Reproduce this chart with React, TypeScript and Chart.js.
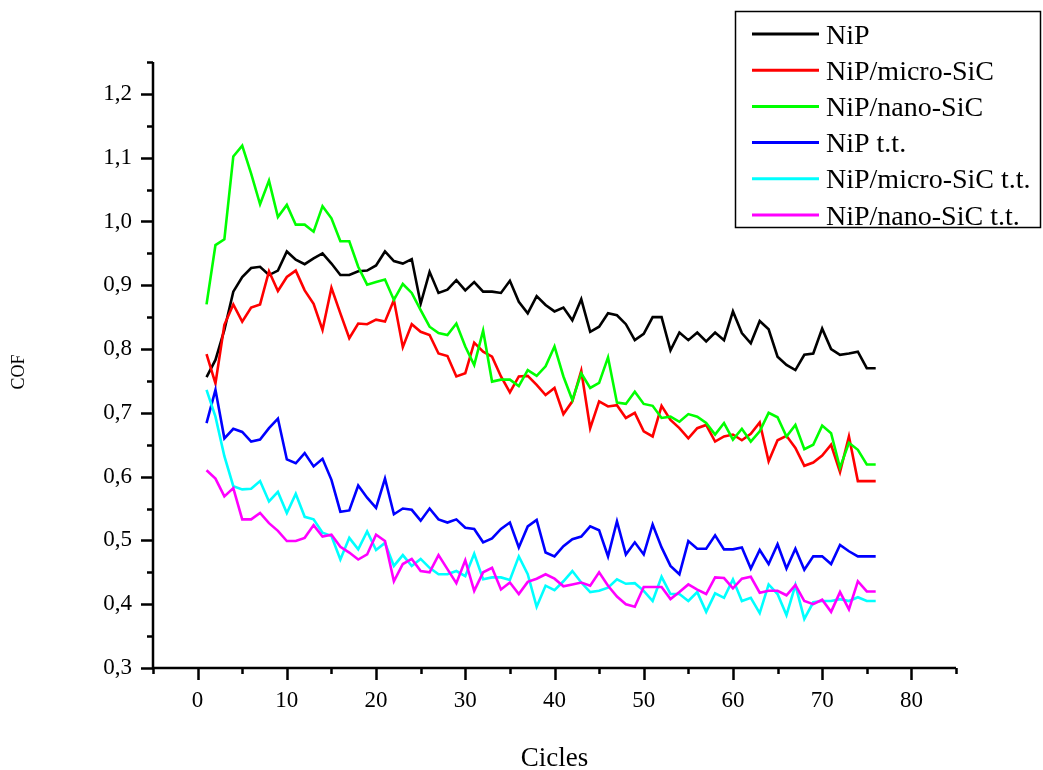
import React, { useEffect, useRef } from "react";
import { Chart, registerables } from "chart.js";

Chart.register(...registerables);

// Cycle numbers (x values)
const cycles = [
  1, 2, 3, 4, 5, 6, 7, 8, 9, 10, 11, 12, 13, 14, 15, 16, 17, 18, 19, 20,
  21, 22, 23, 24, 25, 26, 27, 28, 29, 30, 31, 32, 33, 34, 35, 36, 37, 38, 39, 40,
  41, 42, 43, 44, 45, 46, 47, 48, 49, 50, 51, 52, 53, 54, 55, 56, 57, 58, 59, 60,
  61, 62, 63, 64, 65, 66, 67, 68, 69, 70, 71, 72, 73, 74, 75, 76,
];

// Coefficient of friction per coating
const cofNiP = [
  0.756, 0.783, 0.83, 0.89, 0.913, 0.927, 0.929, 0.916, 0.923, 0.953,
  0.94, 0.933, 0.942, 0.95, 0.934, 0.916, 0.916, 0.922, 0.923, 0.931,
  0.953, 0.938, 0.934, 0.941, 0.871, 0.921, 0.888, 0.893, 0.908, 0.892,
  0.905, 0.89, 0.89, 0.888, 0.907, 0.874, 0.856, 0.883, 0.869, 0.859,
  0.865, 0.845, 0.878, 0.827, 0.835, 0.856, 0.853, 0.839, 0.814, 0.824,
  0.85, 0.85, 0.798, 0.826, 0.814, 0.826, 0.812, 0.826, 0.814, 0.859,
  0.825, 0.809, 0.844, 0.831, 0.788, 0.775, 0.767, 0.791, 0.793, 0.832,
  0.8, 0.791, 0.793, 0.796, 0.77, 0.77,
];

const cofNiPMicroSiC = [
  0.792, 0.746, 0.838, 0.87, 0.843, 0.865, 0.87, 0.922, 0.891, 0.913,
  0.923, 0.892, 0.871, 0.83, 0.896, 0.856, 0.817, 0.84, 0.839, 0.846,
  0.843, 0.877, 0.803, 0.839, 0.827, 0.822, 0.793, 0.789, 0.757, 0.762,
  0.81, 0.796, 0.788, 0.757, 0.732, 0.757, 0.758, 0.744, 0.728, 0.739,
  0.698, 0.718, 0.766, 0.676, 0.718, 0.71, 0.712, 0.692, 0.7, 0.671,
  0.663, 0.711, 0.689, 0.676, 0.66, 0.676, 0.681, 0.655, 0.663, 0.666,
  0.657, 0.667, 0.685, 0.624, 0.657, 0.664, 0.645, 0.617, 0.622, 0.633,
  0.65, 0.607, 0.663, 0.593, 0.593, 0.593,
];

const cofNiPNanoSiC = [
  0.87, 0.963, 0.972, 1.102, 1.119, 1.075, 1.027, 1.064, 1.007, 1.026,
  0.995, 0.995, 0.984, 1.024, 1.005, 0.969, 0.969, 0.929, 0.901, 0.905,
  0.909, 0.877, 0.902, 0.888, 0.861, 0.835, 0.825, 0.822, 0.84, 0.804,
  0.775, 0.829, 0.749, 0.752, 0.752, 0.742, 0.767, 0.758, 0.773, 0.804,
  0.757, 0.72, 0.762, 0.739, 0.747, 0.787, 0.716, 0.714, 0.733, 0.714,
  0.711, 0.692, 0.694, 0.686, 0.698, 0.694, 0.684, 0.666, 0.684, 0.658,
  0.675, 0.655, 0.671, 0.7, 0.693, 0.663, 0.681, 0.643, 0.65, 0.68,
  0.668, 0.614, 0.653, 0.642, 0.619, 0.619,
];

const cofNiPTT = [
  0.684, 0.736, 0.66, 0.675, 0.67, 0.655, 0.658, 0.676, 0.691, 0.627,
  0.621, 0.637, 0.616, 0.628, 0.595, 0.545, 0.547, 0.586, 0.567, 0.551,
  0.597, 0.541, 0.55, 0.548, 0.531, 0.55, 0.533, 0.528, 0.533, 0.52,
  0.518, 0.497, 0.503, 0.518, 0.528, 0.489, 0.522, 0.532, 0.481, 0.475,
  0.491, 0.502, 0.506, 0.522, 0.516, 0.475, 0.53, 0.478, 0.497, 0.478,
  0.525, 0.489, 0.46, 0.447, 0.499, 0.487, 0.487, 0.508, 0.486, 0.486,
  0.489, 0.456, 0.485, 0.463, 0.494, 0.456, 0.487, 0.454, 0.475, 0.475,
  0.463, 0.493, 0.483, 0.475, 0.475, 0.475,
];

const cofNiPMicroSiCTT = [
  0.736, 0.694, 0.632, 0.585, 0.58, 0.581, 0.593, 0.561, 0.576, 0.543,
  0.573, 0.537, 0.533, 0.512, 0.507, 0.47, 0.504, 0.486, 0.514, 0.485,
  0.496, 0.46, 0.477, 0.46, 0.471, 0.457, 0.447, 0.447, 0.452, 0.444,
  0.479, 0.439, 0.442, 0.442, 0.438, 0.475, 0.447, 0.396, 0.429, 0.422,
  0.436, 0.452, 0.434, 0.419, 0.421, 0.426, 0.439, 0.432, 0.433, 0.421,
  0.405, 0.443, 0.416, 0.416, 0.405, 0.419, 0.388, 0.417, 0.41, 0.439,
  0.405, 0.41, 0.386, 0.431, 0.416, 0.383, 0.43, 0.377, 0.403, 0.405,
  0.405, 0.408, 0.405, 0.411, 0.405, 0.405,
];

const cofNiPNanoSiCTT = [
  0.61, 0.597, 0.569, 0.582, 0.533, 0.533, 0.543, 0.527, 0.515, 0.499,
  0.499, 0.504, 0.524, 0.506, 0.509, 0.49, 0.481, 0.47, 0.478, 0.509,
  0.499, 0.436, 0.463, 0.471, 0.452, 0.45, 0.477, 0.455, 0.433, 0.469,
  0.421, 0.45, 0.457, 0.423, 0.434, 0.416, 0.435, 0.44, 0.447, 0.44,
  0.428, 0.431, 0.434, 0.429, 0.45, 0.429, 0.412, 0.4, 0.396, 0.427,
  0.427, 0.427, 0.408, 0.419, 0.431, 0.423, 0.416, 0.442, 0.441, 0.425,
  0.44, 0.443, 0.418, 0.421, 0.421, 0.414, 0.43, 0.405, 0.4, 0.407,
  0.388, 0.419, 0.392, 0.436, 0.42, 0.42,
];

const seriesLabels = [
  "NiP",
  "NiP/micro-SiC",
  "NiP/nano-SiC",
  "NiP t.t.",
  "NiP/micro-SiC t.t.",
  "NiP/nano-SiC t.t.",
];
const seriesValues = [
  cofNiP,
  cofNiPMicroSiC,
  cofNiPNanoSiC,
  cofNiPTT,
  cofNiPMicroSiCTT,
  cofNiPNanoSiCTT,
];
const seriesColors = ["#000000", "#ff0000", "#00ff00", "#0000ff", "#00ffff", "#ff00ff"];

const xTitle = "Cicles";
const yTitle = "COF";

const FONT = "'Liberation Serif', 'Times New Roman', serif";

// Draws the L-shaped axes with major/minor ticks, axis titles and the boxed legend
const frameAndLegend = {
  id: "frameAndLegend",
  afterDraw(chart: any) {
    const { ctx, chartArea } = chart;
    const xs = chart.scales.x;
    const ys = chart.scales.y;
    ctx.save();
    ctx.strokeStyle = "#000";
    ctx.lineWidth = 2.5;
    ctx.lineCap = "butt";

    ctx.beginPath();
    ctx.moveTo(chartArea.left, chartArea.top);
    ctx.lineTo(chartArea.left, chartArea.bottom);
    ctx.lineTo(chartArea.right, chartArea.bottom);
    ctx.stroke();

    ctx.beginPath();
    for (const t of ys.ticks) {
      const n = Math.round(t.value * 100);
      const len = n % 10 === 0 ? 12 : 6;
      const py = Math.round(ys.getPixelForValue(t.value)) + 0.5;
      ctx.moveTo(chartArea.left - len, py);
      ctx.lineTo(chartArea.left, py);
    }
    for (const t of xs.ticks) {
      const n = Math.round(t.value);
      const len = n % 10 === 0 ? 12 : 6;
      const px = Math.round(xs.getPixelForValue(t.value)) + 0.5;
      ctx.moveTo(px, chartArea.bottom);
      ctx.lineTo(px, chartArea.bottom + len);
    }
    ctx.stroke();

    // axis titles
    ctx.fillStyle = "#000";
    ctx.textAlign = "center";
    ctx.textBaseline = "alphabetic";
    ctx.font = `27px ${FONT}`;
    ctx.fillText(xTitle, (chartArea.left + chartArea.right) / 2, 766);
    ctx.save();
    ctx.translate(24, 372);
    ctx.rotate(-Math.PI / 2);
    ctx.font = `18px ${FONT}`;
    ctx.fillText(yTitle, 0, 0);
    ctx.restore();

    // legend box
    ctx.lineWidth = 1.5;
    ctx.strokeStyle = "#000";
    ctx.strokeRect(735.5, 11.5, 305, 216);
    ctx.font = `28px ${FONT}`;
    ctx.textAlign = "left";
    chart.data.datasets.forEach((ds: any, i: number) => {
      const ly = 34 + i * 36.2;
      ctx.strokeStyle = ds.borderColor;
      ctx.lineWidth = 3;
      ctx.beginPath();
      ctx.moveTo(752, ly);
      ctx.lineTo(819, ly);
      ctx.stroke();
      ctx.fillStyle = "#000";
      ctx.fillText(ds.label, 826, ly + 9.5);
    });
    ctx.restore();
  },
};

export default function App() {
  const canvasRef = useRef<HTMLCanvasElement | null>(null);

  useEffect(() => {
    const canvas = canvasRef.current;
    if (!canvas) return;
    Chart.defaults.font.family = FONT;
    const datasets = seriesValues.map((vals, i) => ({
      label: seriesLabels[i],
      data: cycles.map((c, k) => ({ x: c, y: vals[k] })),
      borderColor: seriesColors[i],
      backgroundColor: seriesColors[i],
      borderWidth: 2.6,
      pointRadius: 0,
      tension: 0,
      fill: false,
      order: seriesValues.length - i,
    }));

    const chart = new Chart(canvas, {
      type: "line",
      data: { datasets },
      options: {
        animation: false,
        responsive: false,
        maintainAspectRatio: false,
        layout: { padding: { top: 62, right: 87, left: 0, bottom: 0 } },
        plugins: {
          legend: { display: false },
          tooltip: { enabled: false },
          title: { display: false },
        },
        scales: {
          x: {
            type: "linear",
            min: -5,
            max: 85,
            afterFit: (s: any) => {
              s.height = 102;
            },
            grid: { display: false, drawTicks: false },
            border: { display: false },
            ticks: {
              stepSize: 5,
              autoSkip: false,
              maxRotation: 0,
              padding: 19,
              color: "#000",
              font: { size: 23, family: FONT },
              callback: (v: any) => {
                const n = Math.round(Number(v));
                return n % 10 === 0 && n >= 0 && n <= 80 ? String(n) : "";
              },
            },
          },
          y: {
            type: "linear",
            min: 0.3,
            max: 1.25,
            afterFit: (s: any) => {
              s.width = 153;
            },
            grid: { display: false, drawTicks: false },
            border: { display: false },
            ticks: {
              stepSize: 0.05,
              autoSkip: false,
              padding: 21,
              color: "#000",
              font: { size: 23, family: FONT },
              callback: (v: any) => {
                const n = Math.round(Number(v) * 100);
                return n % 10 === 0 ? (n / 100).toFixed(1).replace(".", ",") : "";
              },
            },
          },
        },
      },
      plugins: [frameAndLegend],
    });
    return () => chart.destroy();
  }, []);

  return (
    <div
      style={{
        position: "absolute",
        left: 0,
        top: 0,
        width: 1043,
        height: 770,
        background: "#fff",
      }}
    >
      <canvas ref={canvasRef} width={1043} height={770} style={{ display: "block" }} />
    </div>
  );
}
